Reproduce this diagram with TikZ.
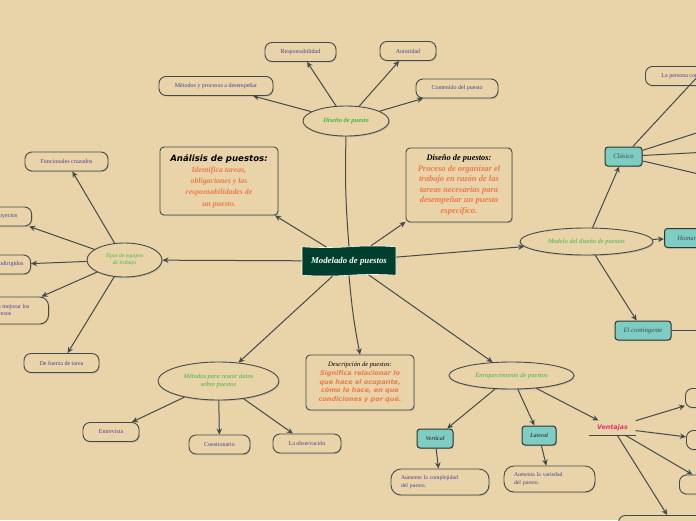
\documentclass[tikz,border=0pt]{standalone}
\usepackage{fontspec}
\setmainfont{Liberation Serif}
\setsansfont{DejaVu Sans}
\usepackage{xcolor}
\usepackage{tikz}
\usetikzlibrary{arrows.meta,positioning,shapes,shadows}

\definecolor{fondo}{HTML}{E8D4A8}
\definecolor{verdeosc}{HTML}{003F2E}
\definecolor{morado}{HTML}{4B3D9E}
\definecolor{verdetxt}{HTML}{3DB54A}
\definecolor{naranja}{HTML}{F07A4A}
\definecolor{turquesa}{HTML}{7DCDC3}
\definecolor{linea}{HTML}{434A4C}
\definecolor{rosa}{HTML}{E8336A}

\begin{document}
\begin{tikzpicture}[x=1pt,y=-1pt]

\tikzstyle{sombra} = [drop shadow={opacity=0.3, shadow xshift=0.8pt, shadow yshift=-1.2pt}]
\tikzstyle{hoja} = [draw=linea, line width=0.9pt, rounded corners=7pt, fill=fondo, sombra, text=morado, font=\fontsize{6}{7.3}\selectfont, minimum height=19pt, inner xsep=8pt]
\tikzstyle{elipse} = [draw=linea, line width=0.9pt, ellipse, fill=fondo, sombra, text=verdetxt, font=\fontsize{6.5}{7.8}\selectfont\itshape, align=center, inner sep=0pt]
\tikzstyle{caja} = [draw=black!80, line width=1pt, rounded corners=3pt, fill=turquesa, sombra, text=linea, font=\fontsize{6.7}{8}\selectfont\itshape, minimum height=19pt, inner xsep=3pt]
\tikzstyle{texto} = [draw=linea, line width=0.9pt, rounded corners=4pt, fill=fondo, sombra, align=flush center, inner sep=3pt]
\tikzstyle{flecha} = [draw=linea, line width=1pt, -{Stealth[length=6pt, width=5.5pt]}]
\tikzstyle{rama} = [draw=linea, line width=1pt]

\useasboundingbox (0,0) rectangle (696,520);
\clip (0,0) rectangle (696,520);
\fill [fondo] (0,0) rectangle (696,520);

% centro
\node [tape, tape bend height=1.5pt, fill=verdeosc, draw=white, line width=0.6pt, minimum width=94pt, minimum height=30pt, text=white, font=\fontsize{8.8}{10}\selectfont\bfseries\itshape] (modelado) at (349,261) {Modelado de puestos};

% diseno de puesto
\node [elipse, minimum width=86pt, minimum height=30pt, font=\fontsize{6.5}{7.8}\selectfont\bfseries\itshape] (diseno) at (346,121) {Diseño de puesto};
\node [hoja, minimum width=71pt] (resp) at (300.5,52) {Responsabilidad};
\node [hoja, minimum width=56pt] (autoridad) at (408,51) {Autoridad};
\node [hoja, minimum width=114pt] (metodos) at (216,86) {Métodos y procesos a desempeñar};
\node [hoja, minimum width=82pt] (contenido) at (457,88.5) {Contenido del puesto};

% cuadros de texto
\node [texto, minimum width=118pt, minimum height=68pt, text width=112pt] (analisis) at (219,181) {{\sffamily\bfseries\itshape\fontsize{8.6}{11.5}\selectfont Análisis de puestos:\par}{\color{naranja}\bfseries\itshape\fontsize{7.8}{11.3}\selectfont Identifica tareas,\\ obligaciones y las\\ responsabilidades de\\ un puesto.\par}};
\node [texto, minimum width=104pt, minimum height=74pt, text width=100pt] (disenos) at (459,185) {{\bfseries\itshape\fontsize{8.4}{10.5}\selectfont Diseño de puestos:\par}{\color{naranja}\bfseries\itshape\fontsize{8.5}{10.6}\selectfont Proceso de organizar el\\ trabajo en razón de las\\ tareas necesarias para\\ desempeñar un puesto\\ específico.\par}};
\node [texto, minimum width=106pt, minimum height=55pt, text width=102pt] (descripcion) at (360,382.5) {{\itshape\fontsize{6.6}{9}\selectfont Descripción de puestos:\par}{\color{naranja}\sffamily\bfseries\itshape\fontsize{6.5}{8.7}\selectfont Significa relacionar lo\\ que hace el ocupante,\\ cómo lo hace, en que\\ condiciones y por qué.\par}};

% tipos de equipos
\node [elipse, minimum width=75pt, minimum height=34pt, font=\fontsize{5.6}{7}\selectfont\itshape] (tipos) at (124.5,260) {Tipos de equipos\\ de trabajo};
\node [hoja, minimum width=83pt] (funcionales) at (66.5,161.5) {Funcionales cruzados};
\node [hoja, anchor=east, inner xsep=14pt] (proyectos) at (32,216.5) {Por proyectos};
\node [hoja, anchor=east, inner xsep=7pt] (autodirigidos) at (31,264.5) {Autodirigidos};
\node [hoja, anchor=east, minimum height=27pt, align=left, inner xsep=19pt, rounded corners=9pt] (mejorar) at (49,310.5) {Para mejorar los\\ procesos};
\node [hoja, minimum width=75pt] (fuerza) at (61.5,363) {De fuerza de tarea};

% metodos para reunir datos
\node [elipse, minimum width=121pt, minimum height=38pt] (reunir) at (218.5,381) {Métodos para reunir datos\\ sobre puestos};
\node [hoja, minimum width=56pt] (entrevista) at (111,432) {Entrevista};
\node [hoja, minimum width=61pt] (cuestionario) at (219.5,444.5) {Cuestionario};
\node [hoja, minimum width=68pt] (observacion) at (307,443.5) {La observación};

% enriquecimiento
\node [elipse, minimum width=125pt, minimum height=27pt] (enriq) at (511.5,375.5) {Enriquecimiento de puestos};
\node [caja, minimum width=36pt, font=\fontsize{6}{7}\selectfont\bfseries\itshape] (vertical) at (435,438.5) {Vertical};
\node [caja, minimum width=34pt, font=\fontsize{6}{7}\selectfont\bfseries\itshape] (lateral) at (539,435.5) {Lateral};
\node [hoja, minimum width=98pt, minimum height=26pt, rounded corners=10pt, text width=78pt, align=left, font=\fontsize{5.7}{7.5}\selectfont] (complejidad) at (440,482) {Aumente la complejidad\\ del puesto.};
\node [hoja, minimum width=91pt, minimum height=26pt, rounded corners=10pt, text width=71pt, align=left, font=\fontsize{5.7}{7.5}\selectfont] (variedad) at (549.5,479) {Aumenta la variedad\\ del puesto.};
\node [anchor=south, minimum width=46pt, inner ysep=4pt, text=rosa, font=\sffamily\bfseries\itshape\fontsize{6.3}{7}\selectfont] (ventajas) at (612.5,435) {Ventajas};
\draw [rama] (ventajas.south west) -- (ventajas.south east);
\node [hoja, anchor=west, minimum width=50pt] (ventaja1) at (685,398) {};
\node [hoja, anchor=west, minimum width=50pt] (ventaja2) at (686,440) {};
\node [hoja, anchor=west, minimum width=60pt, inner xsep=14pt] (ventaja3) at (679,484.5) {Incrementa};
\node [hoja, anchor=north west, minimum width=110pt] (ventaja4) at (618,515) {};

% modelo del diseno
\node [elipse, minimum width=133pt, minimum height=27pt] (modelo) at (586.5,241.5) {Modelo del diseño de puestos};
\node [caja, minimum width=37pt] (clasico) at (623.5,156.5) {Clásico};
\node [caja, anchor=west, minimum width=60pt, align=left, inner xsep=9pt] (humanistico) at (664,238) {Humanístico};
\node [caja, minimum width=56pt] (contingente) at (643,330.5) {El contingente};
\node [hoja, anchor=west, inner xsep=16pt] (persona) at (645,76) {La persona como máquina};
\coordinate (clasico1) at (740,31);
\coordinate (clasico2) at (746,117);
\coordinate (clasico3) at (746,150);
\coordinate (clasico4) at (746,185);
\coordinate (contingente1) at (740,330.5);

% conectores
\draw [rama] (modelado.north) to[bend left=3] (diseno.south);
\draw [flecha] (modelado) -- (analisis);
\draw [flecha] (modelado) -- (disenos);
\draw [flecha] (modelado) -- (tipos);
\draw [flecha] (modelado) -- (modelo);
\draw [flecha] (modelado) -- (reunir);
\draw [flecha] (modelado.south) to[bend right=3] (descripcion.north);
\draw [flecha] (modelado) -- (enriq);

\draw [flecha] (diseno) -- (metodos);
\draw [flecha] (diseno) -- (resp);
\draw [flecha] (diseno) -- (autoridad);
\draw [flecha] (diseno) -- (contenido);

\draw [flecha] (tipos) -- (funcionales);
\draw [flecha] (tipos) -- (proyectos);
\draw [flecha] (tipos) -- (autodirigidos);
\draw [flecha] (tipos) -- (mejorar);
\draw [flecha] (tipos) -- (fuerza);

\draw [flecha] (reunir) -- (entrevista);
\draw [flecha] (reunir) -- (cuestionario);
\draw [flecha] (reunir) -- (observacion);

\draw [flecha] (enriq) -- (vertical);
\draw [flecha] (enriq) -- (lateral);
\draw [flecha] (enriq) -- (ventajas);
\draw [flecha] (vertical) -- (complejidad);
\draw [flecha] (lateral) -- (variedad);
\draw [flecha] (ventajas) -- (ventaja1);
\draw [flecha] (ventajas) -- (ventaja2);
\draw [flecha] (ventajas) -- (ventaja3);
\draw [flecha] (ventajas) -- (ventaja4);

\draw [flecha] (modelo) -- (clasico);
\draw [flecha] (modelo) -- (humanistico);
\draw [flecha] (modelo) -- (contingente);
\draw [flecha] (clasico) -- (clasico1);
\draw [flecha] (clasico) -- (clasico2);
\draw [flecha] (clasico) -- (clasico3);
\draw [flecha] (clasico) -- (clasico4);
\draw [flecha] (contingente) -- (contingente1);
\end{tikzpicture}
\end{document}
